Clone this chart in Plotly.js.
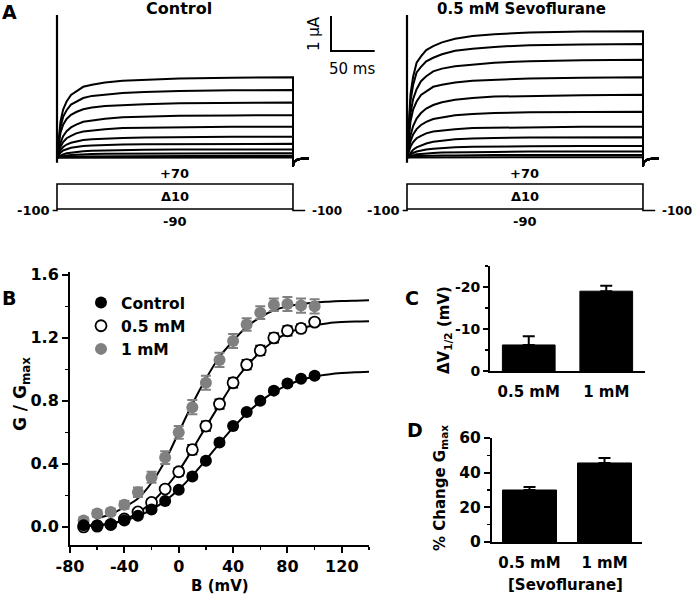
<!DOCTYPE html>
<html><head><meta charset="utf-8">
<script src="https://cdn.plot.ly/plotly-3.0.1.min.js"></script>
<style>html,body{margin:0;padding:0;background:#fff}</style>
</head><body><div id="chart" style="width:693px;height:595px"></div>
<script>
// ---------------- DATA ----------------
// Panel A: current traces (µA) sampled at these times (ms)
const riseT = [0, 2, 4, 7, 11, 16, 22, 30, 40, 55, 75, 100, 140, 200, 270];
const tailT = [270, 270.5, 275, 281, 288];
const tailI = [-0.27, -0.13, -0.06, -0.03, -0.02];
const transientT = [0, 0];
const transientI = [-0.15, 4.07];
// Control, steps +70 ... -40 mV
const ctrlCurrents = [
  [0, 0.57, 1.03, 1.37, 1.60, 1.79, 1.90, 2.02, 2.08, 2.14, 2.19, 2.22, 2.26, 2.28, 2.29],
  [0, 0.48, 0.87, 1.16, 1.35, 1.51, 1.60, 1.70, 1.76, 1.80, 1.84, 1.87, 1.90, 1.92, 1.93],
  [0, 0.39, 0.71, 0.94, 1.10, 1.22, 1.30, 1.38, 1.43, 1.47, 1.50, 1.52, 1.55, 1.56, 1.57],
  [0, 0.22, 0.42, 0.61, 0.75, 0.86, 0.94, 1.02, 1.06, 1.11, 1.15, 1.17, 1.19, 1.20, 1.21],
  [0, 0.16, 0.31, 0.44, 0.55, 0.62, 0.69, 0.74, 0.77, 0.81, 0.84, 0.85, 0.87, 0.88, 0.88],
  [0, 0.11, 0.21, 0.30, 0.37, 0.42, 0.46, 0.50, 0.52, 0.54, 0.56, 0.57, 0.58, 0.59, 0.59],
  [0, 0.07, 0.14, 0.20, 0.24, 0.28, 0.30, 0.33, 0.34, 0.36, 0.37, 0.38, 0.38, 0.39, 0.39],
  [0, 0.03, 0.06, 0.09, 0.12, 0.14, 0.16, 0.18, 0.19, 0.20, 0.21, 0.22, 0.23, 0.23, 0.23],
  [0, 0.01, 0.03, 0.05, 0.06, 0.07, 0.08, 0.09, 0.10, 0.11, 0.11, 0.12, 0.12, 0.12, 0.12],
  [0, 0.01, 0.01, 0.02, 0.03, 0.03, 0.03, 0.04, 0.04, 0.05, 0.05, 0.05, 0.05, 0.05, 0.05],
  [0, 0, 0.01, 0.01, 0.01, 0.01, 0.01, 0.02, 0.02, 0.02, 0.02, 0.02, 0.02, 0.02, 0.02],
  [0, 0, 0, 0, 0, 0, 0, 0, 0, 0, 0, 0, 0, 0, 0]
];
// 0.5 mM Sevoflurane, steps +70 ... -40 mV
const sevoCurrents = [
  [0, 1.08, 1.81, 2.31, 2.71, 2.89, 3.07, 3.18, 3.29, 3.39, 3.47, 3.52, 3.57, 3.60, 3.61],
  [0, 0.97, 1.62, 2.07, 2.43, 2.59, 2.75, 2.85, 2.95, 3.05, 3.11, 3.16, 3.21, 3.23, 3.24],
  [0, 0.70, 1.26, 1.67, 1.95, 2.18, 2.32, 2.46, 2.54, 2.61, 2.66, 2.71, 2.75, 2.78, 2.79],
  [0, 0.57, 1.03, 1.37, 1.60, 1.79, 1.90, 2.02, 2.08, 2.14, 2.19, 2.22, 2.26, 2.28, 2.29],
  [0, 0.32, 0.63, 0.90, 1.11, 1.27, 1.40, 1.50, 1.58, 1.65, 1.70, 1.74, 1.76, 1.78, 1.79],
  [0, 0.24, 0.46, 0.66, 0.81, 0.93, 1.02, 1.10, 1.15, 1.21, 1.24, 1.27, 1.29, 1.30, 1.31],
  [0, 0.16, 0.31, 0.44, 0.55, 0.62, 0.69, 0.74, 0.77, 0.81, 0.84, 0.85, 0.87, 0.88, 0.88],
  [0, 0.07, 0.15, 0.22, 0.29, 0.35, 0.40, 0.45, 0.48, 0.52, 0.54, 0.56, 0.57, 0.58, 0.58],
  [0, 0.04, 0.08, 0.13, 0.17, 0.20, 0.23, 0.25, 0.27, 0.29, 0.31, 0.32, 0.32, 0.33, 0.33],
  [0, 0.02, 0.04, 0.06, 0.09, 0.10, 0.12, 0.13, 0.14, 0.15, 0.16, 0.16, 0.17, 0.17, 0.17],
  [0, 0.01, 0.02, 0.03, 0.04, 0.04, 0.05, 0.05, 0.06, 0.06, 0.07, 0.07, 0.07, 0.07, 0.07],
  [0, 0, 0, 0, 0, 0, 0, 0.01, 0.01, 0.01, 0.01, 0.01, 0.01, 0.01, 0.01]
];
// Voltage protocol (mV vs ms)
const protoTopT = [-5, 0, 0, 270, 270, 284];
const protoTopV = [-100, -100, 70, 70, -100, -100];
const protoBotT = [0, 270];
const protoBotV = [-90, -90];
// Scale bar: 50 ms, 1 µA
const scaleT = [0, 0, 50];
const scaleI = [1, 0, 0];

// Panel B: G/Gmax vs voltage
const voltB = [-70, -60, -50, -40, -30, -20, -10, 0, 10, 20, 30, 40, 50, 60, 70, 80, 90, 100];
const gControl = [0.01, 0.01, 0.015, 0.04, 0.07, 0.11, 0.165, 0.235, 0.32, 0.42, 0.535, 0.64, 0.73, 0.80, 0.865, 0.91, 0.94, 0.96];
const gControlErr = [0.01, 0.01, 0.01, 0.01, 0.012, 0.012, 0.012, 0.015, 0.015, 0.015, 0.015, 0.015, 0.015, 0.015, 0.015, 0.015, 0.015, 0.015];
const g05 = [0.0, 0.005, 0.015, 0.05, 0.095, 0.155, 0.24, 0.35, 0.49, 0.64, 0.78, 0.915, 1.03, 1.12, 1.20, 1.245, 1.26, 1.30];
const g05Err = [0.01, 0.01, 0.01, 0.015, 0.015, 0.02, 0.02, 0.025, 0.03, 0.03, 0.03, 0.03, 0.03, 0.03, 0.03, 0.03, 0.025, 0.02];
const g1 = [0.04, 0.085, 0.095, 0.14, 0.22, 0.315, 0.44, 0.60, 0.76, 0.915, 1.06, 1.18, 1.285, 1.36, 1.41, 1.415, 1.405, 1.40];
const g1Err = [0.02, 0.02, 0.02, 0.025, 0.03, 0.035, 0.04, 0.04, 0.045, 0.045, 0.045, 0.045, 0.04, 0.04, 0.04, 0.045, 0.045, 0.045];
// Boltzmann fit curves
const fitV = [-70, -60, -50, -40, -30, -20, -10, 0, 10, 20, 30, 40, 50, 60, 70, 80, 90, 100, 110, 120, 130, 140];
const fitControl = [0.008, 0.012, 0.02, 0.04, 0.068, 0.11, 0.165, 0.237, 0.325, 0.425, 0.53, 0.63, 0.72, 0.795, 0.855, 0.9, 0.932, 0.955, 0.968, 0.977, 0.982, 0.985];
const fit05 = [0.005, 0.01, 0.02, 0.045, 0.09, 0.155, 0.245, 0.355, 0.49, 0.635, 0.775, 0.91, 1.02, 1.11, 1.18, 1.23, 1.26, 1.28, 1.293, 1.3, 1.304, 1.306];
const fit1 = [null, 0.055, 0.08, 0.125, 0.18, 0.28, 0.42, 0.6, 0.78, 0.94, 1.08, 1.18, 1.27, 1.33, 1.375, 1.40, 1.415, 1.425, 1.43, 1.434, 1.436, 1.438];
const voltTickVals = [-80, -40, 0, 40, 80, 120];
const voltTickText = ['-80', '-40', '0', '40', '80', '120'];

// Panels C and D
const concLabels = ['0.5 mM', '1 mM'];
const dV12 = [-6.2, -19.0];
const dV12Err = [2.1, 1.3];
const dVTickVals = [0, -10, -20];
const dVTickText = ['0', '-10', '-20'];
const dGmax = [30.0, 45.6];
const dGmaxErr = [1.7, 2.9];

// ---------------- LAYOUT HELPERS ----------------
const W = 693, H = 595;
const FONT = 'DejaVu Sans';
const X = p => p / W;
const Y = p => 1 - p / H;
const domX = (a, b) => [X(a), X(b)];
const domY = (bottom, top) => [Y(bottom), Y(top)];
const bold = (size) => ({family: FONT, size: size, weight: 'bold', color: 'black'});

const traces = [];
// Panel A traces
function addCurrents(list, xa, ya) {
  list.forEach(arr => traces.push({
    x: riseT.concat(tailT), y: arr.concat(tailI), xaxis: xa, yaxis: ya,
    mode: 'lines', line: {color: 'black', width: 2}, showlegend: false, hoverinfo: 'skip'
  }));
  traces.push({x: transientT, y: transientI, xaxis: xa, yaxis: ya, mode: 'lines',
    line: {color: 'black', width: 2.2}, showlegend: false, hoverinfo: 'skip'});
}
addCurrents(ctrlCurrents, 'x4', 'y4');
addCurrents(sevoCurrents, 'x5', 'y5');
[['x6', 'y6'], ['x7', 'y7']].forEach(([xa, ya]) => {
  traces.push({x: protoTopT, y: protoTopV, xaxis: xa, yaxis: ya, mode: 'lines',
    line: {color: 'black', width: 1.6}, showlegend: false, hoverinfo: 'skip'});
  traces.push({x: protoBotT, y: protoBotV, xaxis: xa, yaxis: ya, mode: 'lines',
    line: {color: 'black', width: 1.6}, showlegend: false, hoverinfo: 'skip'});
});
traces.push({x: scaleT, y: scaleI, xaxis: 'x8', yaxis: 'y8', mode: 'lines',
  line: {color: 'black', width: 2}, showlegend: false, hoverinfo: 'skip'});

// Panel B
const fitLine = {color: 'black', width: 2, shape: 'spline', smoothing: 0.8};
traces.push({x: fitV, y: fit1, mode: 'lines', line: fitLine, showlegend: false, hoverinfo: 'skip', connectgaps: false});
traces.push({x: fitV, y: fit05, mode: 'lines', line: fitLine, showlegend: false, hoverinfo: 'skip'});
traces.push({x: fitV, y: fitControl, mode: 'lines', line: fitLine, showlegend: false, hoverinfo: 'skip'});
traces.push({x: voltB, y: g1, name: '1 mM', mode: 'markers', legendrank: 3,
  marker: {color: '#808080', size: 12, line: {width: 0}},
  error_y: {type: 'data', array: g1Err, color: '#808080', thickness: 2, width: 5}});
traces.push({x: voltB, y: g05, name: '0.5 mM', mode: 'markers', legendrank: 2,
  marker: {color: 'white', size: 11, line: {color: 'black', width: 1.8}},
  error_y: {type: 'data', array: g05Err, color: 'black', thickness: 1.8, width: 5}});
traces.push({x: voltB, y: gControl, name: 'Control', mode: 'markers', legendrank: 1,
  marker: {color: 'black', size: 12, line: {width: 0}},
  error_y: {type: 'data', array: gControlErr, color: 'black', thickness: 1.8, width: 5}});

// Panel C
traces.push({type: 'bar', x: concLabels, y: dV12, xaxis: 'x2', yaxis: 'y2', width: 0.68,
  marker: {color: 'black', line: {color: 'black', width: 1}}, showlegend: false, hoverinfo: 'skip',
  error_y: {type: 'data', symmetric: false, array: [0, 0], arrayminus: dV12Err, color: 'black', thickness: 2, width: 6}});
// Panel D
traces.push({type: 'bar', x: concLabels, y: dGmax, xaxis: 'x3', yaxis: 'y3', width: 0.72,
  marker: {color: 'black', line: {color: 'black', width: 1}}, showlegend: false, hoverinfo: 'skip',
  error_y: {type: 'data', symmetric: false, array: dGmaxErr, arrayminus: [0, 0], color: 'black', thickness: 2, width: 6}});

const axBase = {showline: true, linecolor: 'black', linewidth: 2, showgrid: false, zeroline: false,
  ticks: 'outside', ticklen: 6, tickwidth: 2, tickcolor: 'black', tickfont: bold(16), fixedrange: true};
const hidden = (domain, range) => ({domain: domain, range: range, visible: false, fixedrange: true});

// Panel A axis geometry
const pxPerMs = 0.874, pxPerUA = 35, baseY = 157.5;
const tr = (x0) => domX(x0 - 5 * pxPerMs, x0 + 290 * pxPerMs);
const trY = domY(baseY + 0.4 * pxPerUA, baseY - 4.2 * pxPerUA);
const pr = (x0) => domX(x0 - 10 * pxPerMs, x0 + 295 * pxPerMs);
const prY = domY(184 + 190 * 0.15625, 184 - 15 * 0.15625);

const layout = {
  width: W, height: H, margin: {l: 0, r: 0, t: 0, b: 0},
  paper_bgcolor: 'white', plot_bgcolor: 'rgba(0,0,0,0)',
  font: {family: FONT, color: 'black'},
  showlegend: true,
  legend: {x: X(81), y: Y(286), xanchor: 'left', yanchor: 'top', font: bold(15.5),
    bgcolor: 'rgba(0,0,0,0)', tracegroupgap: 0, itemwidth: 30, traceorder: 'normal'},
  xaxis: Object.assign({}, axBase, {domain: domX(70, 369), range: [-80, 140], anchor: 'y',
    tickmode: 'array', tickvals: voltTickVals, ticktext: voltTickText,
    minor: {ticks: 'outside', tickmode: 'linear', tick0: 0, dtick: 20, ticklen: 3, tickwidth: 1.5, tickcolor: 'black'}}),
  yaxis: Object.assign({}, axBase, {domain: domY(545, 271.7), range: [-0.115, 1.62], anchor: 'x',
    dtick: 0.4, tick0: 0, tickformat: '.1f', minor: {ticks: 'outside', dtick: 0.2, ticklen: 3, tickwidth: 1.5, tickcolor: 'black'}}),
  xaxis2: Object.assign({}, axBase, {domain: domX(490, 645), range: [-0.5, 1.5], type: 'category', anchor: 'y2',
    ticks: '', ticklabelstandoff: 6, tickfont: bold(15)}),
  yaxis2: Object.assign({}, axBase, {domain: domY(371, 266), range: [0, -25], anchor: 'x2',
    tickmode: 'array', tickvals: dVTickVals, ticktext: dVTickText, tickfont: bold(14), ticklen: 5,
    minor: {ticks: 'outside', tickmode: 'linear', tick0: 0, dtick: 5, ticklen: 3, tickwidth: 1.5, tickcolor: 'black'}}),
  xaxis3: Object.assign({}, axBase, {domain: domX(492, 642), range: [-0.5, 1.5], type: 'category', anchor: 'y3',
    ticks: '', ticklabelstandoff: 6, tickfont: bold(15)}),
  yaxis3: Object.assign({}, axBase, {domain: domY(542, 438), range: [0, 60], anchor: 'x3', tickfont: bold(15.5),
    dtick: 20, tick0: 0, minor: {ticks: 'outside', dtick: 10, ticklen: 3, tickwidth: 1.5, tickcolor: 'black'}}),
  xaxis4: hidden(tr(57), [-5, 290]), yaxis4: hidden(trY, [-0.4, 4.2]),
  xaxis5: hidden(tr(407), [-5, 290]), yaxis5: hidden(trY, [-0.4, 4.2]),
  xaxis6: hidden(pr(57), [-10, 295]), yaxis6: hidden(prY, [-120, 85]),
  xaxis7: hidden(pr(407), [-10, 295]), yaxis7: hidden(prY, [-120, 85]),
  xaxis8: hidden(domX(331 - 5 * pxPerMs, 331 + 55 * pxPerMs), [-5, 55]),
  yaxis8: hidden(domY(51 + 0.1 * pxPerUA, 51 - 1.1 * pxPerUA), [-0.1, 1.1]),
  annotations: []
};
// annotations expressed in pixel positions
function ann(text, xp, yp, font, extra) {
  layout.annotations.push(Object.assign({text: text, x: X(xp), y: Y(yp), xref: 'paper', yref: 'paper',
    xanchor: 'center', yanchor: 'middle', showarrow: false, font: font}, extra || {}));
}
ann('A', 9, 12, bold(19));
ann('B', 9, 298, bold(19));
ann('C', 412, 298, bold(19));
ann('D', 415, 430, bold(19));
ann('Control', 179, 9, bold(16));
ann('0.5 mM Sevoflurane', 521, 9, bold(15));
ann('1 µA', 314, 34, {family: FONT, size: 15, color: 'black'}, {textangle: -90});
ann('50 ms', 352, 69, {family: FONT, size: 15, color: 'black'});
[[57, 'x6', 'y6'], [407, 'x7', 'y7']].forEach(([x0, xa, ya]) => {
  const a = (text, x, y, extra) => layout.annotations.push(Object.assign({text: text, x: x, y: y, xref: xa, yref: ya,
    showarrow: false, font: bold(13), xanchor: 'center', yanchor: 'middle'}, extra || {}));
  a('+70', 135, 70, {yanchor: 'bottom', yshift: 1});
  a('Δ10', 135, -10);
  a('-90', 135, -90, {yanchor: 'top', yshift: -3});
  a('-100', -6, -100, {xanchor: 'right'});
  a('-100', 289, -100, {xanchor: 'left', font: bold(12)});
});
ann('B (mV)', 220, 586, bold(15));
ann('G / G<sub>max</sub>', 21, 394, bold(17), {textangle: -90});
ann('ΔV<sub>1/2</sub> (mV)', 444, 330, bold(15), {textangle: -90});
ann('% Change G<sub>max</sub>', 440, 488, bold(15), {textangle: -90});
ann('[Sevoflurane]', 565, 585, bold(15));

Plotly.newPlot('chart', traces, layout, {staticPlot: true, displayModeBar: false});
</script></body></html>
